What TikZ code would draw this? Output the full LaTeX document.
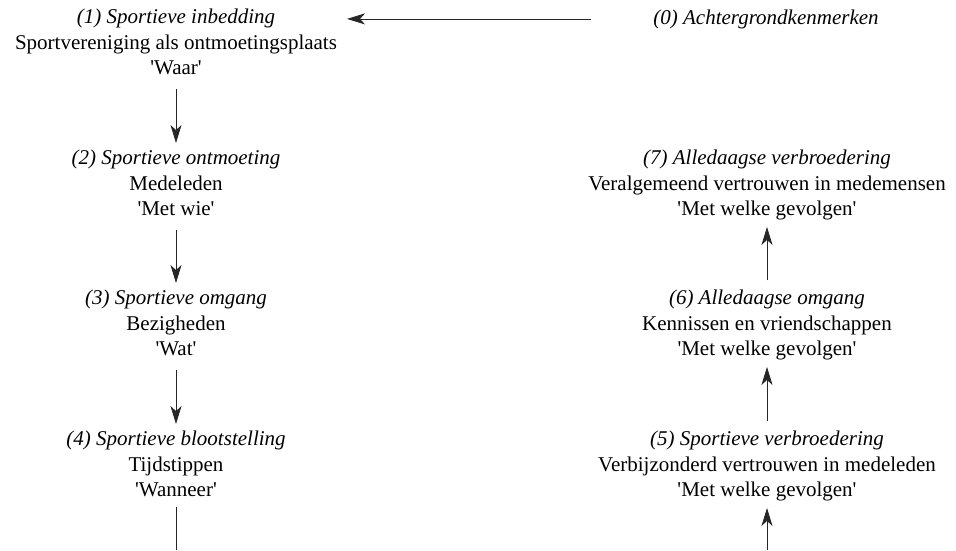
\documentclass[tikz,border=0pt]{standalone}
\usepackage{fontspec}
\setmainfont{Liberation Serif}
\usetikzlibrary{arrows.meta}
\newcommand{\q}{\textquotesingle}
\begin{document}
\begin{tikzpicture}[x=1pt,y=1pt,
  lbl/.style={inner sep=0pt, outer sep=0pt, align=center, font=\fontsize{21}{25.5}\selectfont},
  conn/.style={line width=0.8pt, draw=black!85, -{Stealth[length=18pt,width=11pt,inset=5pt]}, shorten <=6.4pt, shorten >=3.7pt},
  plain/.style={line width=0.8pt, draw=black!85, shorten <=3pt}]
\useasboundingbox (0,0) rectangle (956,-550);
\node[lbl] (n0) at (766,-18.9) {\strut\textit{(0) Achtergrondkenmerken}};
\node[lbl] (n1) at (176,-44) {\strut\textit{(1) Sportieve inbedding}\\\strut Sportvereniging als ontmoetingsplaats\\\strut \q Waar\q};
\node[lbl] (n2) at (176,-185) {\strut\textit{(2) Sportieve ontmoeting}\\\strut Medeleden\\\strut \q Met wie\q};
\node[lbl] (n3) at (176,-325) {\strut\textit{(3) Sportieve omgang}\\\strut Bezigheden\\\strut \q Wat\q};
\node[lbl] (n4) at (176,-466) {\strut\textit{(4) Sportieve blootstelling}\\\strut Tijdstippen\\\strut \q Wanneer\q};
\node[lbl] (n7) at (767,-185) {\strut\textit{(7) Alledaagse verbroedering}\\\strut Veralgemeend vertrouwen in medemensen\\\strut \q Met welke gevolgen\q};
\node[lbl] (n6) at (767,-325) {\strut\textit{(6) Alledaagse omgang}\\\strut Kennissen en vriendschappen\\\strut \q Met welke gevolgen\q};
\node[lbl] (n5) at (767,-466) {\strut\textit{(5) Sportieve verbroedering}\\\strut Verbijzonderd vertrouwen in medeleden\\\strut \q Met welke gevolgen\q};
\coordinate (bl) at (176,-550);
\coordinate (br) at (767,-550);
\draw[conn, shorten <=62pt, shorten >=10pt] (n0.west) -- (n0.west -| n1.east);
\draw[conn] (n1) -- (n2);
\draw[conn] (n2) -- (n3);
\draw[conn] (n3) -- (n4);
\draw[plain] (n4.south) -- (bl);
\draw[conn, shorten <=0pt] (br) -- (n5.south);
\draw[conn] (n5) -- (n6);
\draw[conn] (n6) -- (n7);
\end{tikzpicture}
\end{document}
